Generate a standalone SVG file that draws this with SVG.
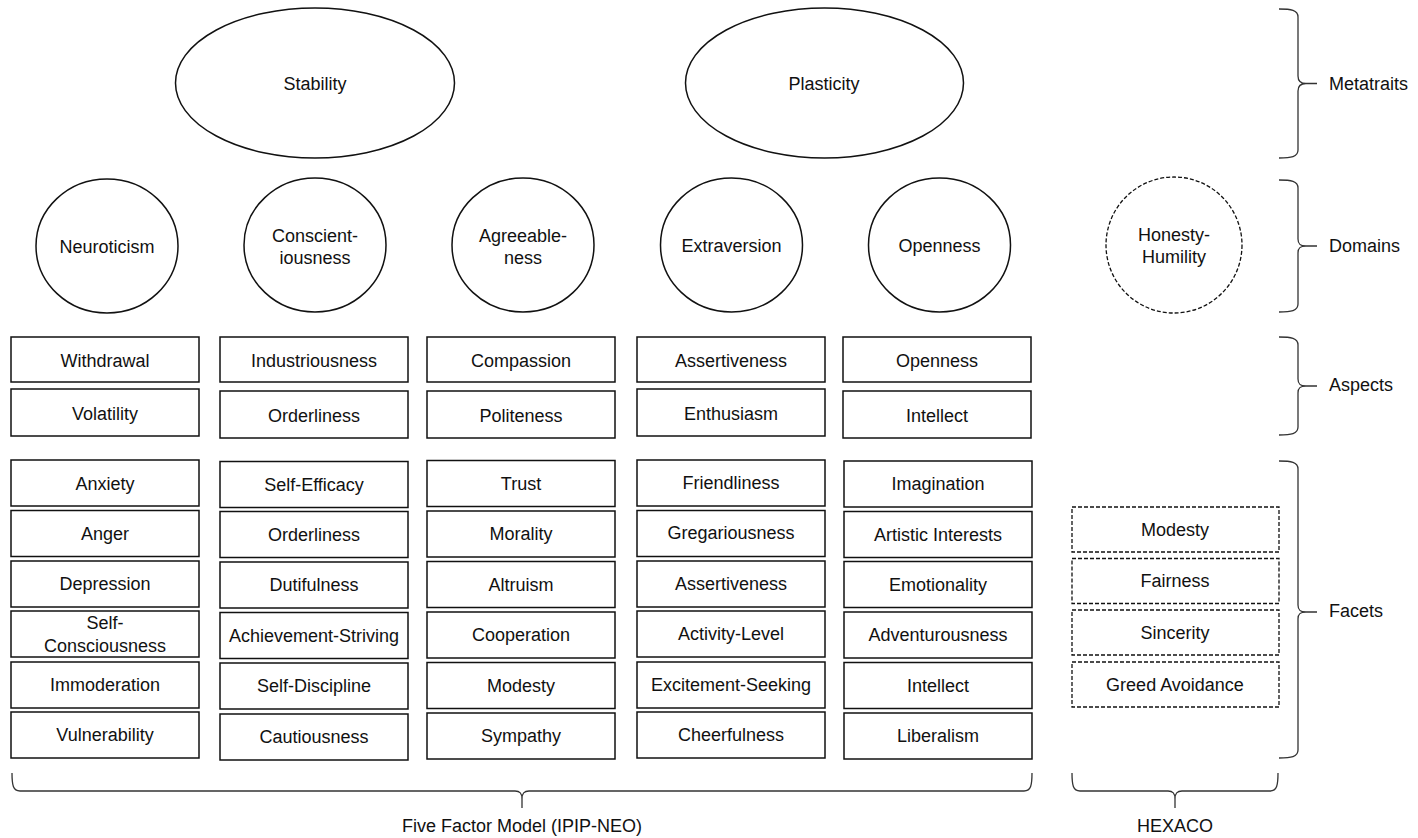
<svg xmlns="http://www.w3.org/2000/svg" width="1418" height="838" viewBox="0 0 1418 838">
<style>
.s{fill:#fff;stroke:#111;stroke-width:1.5}
.d{fill:#fff;stroke:#111;stroke-width:1.3;stroke-dasharray:4 2}
.b{fill:none;stroke:#333;stroke-width:1.3}
text{font-family:"Liberation Sans",Arial,sans-serif;font-size:18px;fill:#111;text-anchor:middle}
.l{text-anchor:start}
</style>
<rect width="1418" height="838" fill="#fff"/>
<g id="metatraits">
<g id="stability"><ellipse class="s" cx="315" cy="83" rx="139.5" ry="75"/><text x="315" y="90">Stability</text></g>
<g id="plasticity"><ellipse class="s" cx="824.5" cy="83" rx="139" ry="75"/><text x="824" y="90">Plasticity</text></g>
</g>
<g id="domains">
<g id="neuroticism"><ellipse class="s" cx="107" cy="246" rx="71" ry="67"/><text x="107" y="253">Neuroticism</text></g>
<g id="conscientiousness"><ellipse class="s" cx="315" cy="245" rx="71" ry="67"/><text x="315" y="241.5">Conscient-</text><text x="315" y="264">iousness</text></g>
<g id="agreeableness"><ellipse class="s" cx="523" cy="245" rx="71" ry="67"/><text x="523" y="241.5">Agreeable-</text><text x="523" y="264">ness</text></g>
<g id="extraversion"><ellipse class="s" cx="731.5" cy="245" rx="71" ry="67"/><text x="731.5" y="252">Extraversion</text></g>
<g id="openness"><ellipse class="s" cx="939.5" cy="245" rx="71" ry="67"/><text x="939.5" y="252">Openness</text></g>
<g id="honesty-humility"><circle class="d" cx="1174" cy="245" r="68"/><text x="1174" y="240.5">Honesty-</text><text x="1174" y="263">Humility</text></g>
</g>
<g id="aspects">
<g id="a-withdrawal"><rect class="s" x="11" y="337" width="188" height="45"/><text x="105" y="366.5">Withdrawal</text></g>
<g id="a-volatility"><rect class="s" x="11" y="389" width="188" height="47"/><text x="105" y="419.5">Volatility</text></g>
<g id="a-industriousness"><rect class="s" x="220" y="337" width="188" height="45"/><text x="314" y="366.5">Industriousness</text></g>
<g id="a-orderliness"><rect class="s" x="220" y="391" width="188" height="47"/><text x="314" y="421.5">Orderliness</text></g>
<g id="a-compassion"><rect class="s" x="427" y="337" width="188" height="45"/><text x="521" y="366.5">Compassion</text></g>
<g id="a-politeness"><rect class="s" x="427" y="391" width="188" height="47"/><text x="521" y="421.5">Politeness</text></g>
<g id="a-assertiveness"><rect class="s" x="637" y="337" width="188" height="45"/><text x="731" y="366.5">Assertiveness</text></g>
<g id="a-enthusiasm"><rect class="s" x="637" y="389" width="188" height="47"/><text x="731" y="419.5">Enthusiasm</text></g>
<g id="a-openness"><rect class="s" x="843" y="337" width="188" height="45"/><text x="937" y="366.5">Openness</text></g>
<g id="a-intellect"><rect class="s" x="843" y="391" width="188" height="47"/><text x="937" y="421.5">Intellect</text></g>
</g>
<g id="facets">
<g id="f-anxiety"><rect class="s" x="11" y="460" width="188" height="46"/><text x="105" y="490">Anxiety</text></g>
<g id="f-anger"><rect class="s" x="11" y="510.5" width="188" height="46"/><text x="105" y="540">Anger</text></g>
<g id="f-depression"><rect class="s" x="11" y="561" width="188" height="46"/><text x="105" y="590">Depression</text></g>
<g id="f-self-consciousness"><rect class="s" x="11" y="611" width="188" height="46"/><text x="105" y="629">Self-</text><text x="105" y="651.5">Consciousness</text></g>
<g id="f-immoderation"><rect class="s" x="11" y="662" width="188" height="46"/><text x="105" y="691">Immoderation</text></g>
<g id="f-vulnerability"><rect class="s" x="11" y="712" width="188" height="46"/><text x="105" y="741">Vulnerability</text></g>

<g id="f-self-efficacy"><rect class="s" x="220" y="461.5" width="188" height="46"/><text x="314" y="491">Self-Efficacy</text></g>
<g id="f-orderliness"><rect class="s" x="220" y="511.5" width="188" height="46"/><text x="314" y="541">Orderliness</text></g>
<g id="f-dutifulness"><rect class="s" x="220" y="562" width="188" height="46"/><text x="314" y="591">Dutifulness</text></g>
<g id="f-achievement-striving"><rect class="s" x="220" y="612.5" width="188" height="46"/><text x="314" y="642">Achievement-Striving</text></g>
<g id="f-self-discipline"><rect class="s" x="220" y="663" width="188" height="46"/><text x="314" y="692">Self-Discipline</text></g>
<g id="f-cautiousness"><rect class="s" x="220" y="714" width="188" height="46"/><text x="314" y="743">Cautiousness</text></g>

<g id="f-trust"><rect class="s" x="427" y="460.5" width="188" height="46"/><text x="521" y="490">Trust</text></g>
<g id="f-morality"><rect class="s" x="427" y="511" width="188" height="46"/><text x="521" y="540">Morality</text></g>
<g id="f-altruism"><rect class="s" x="427" y="561.5" width="188" height="46"/><text x="521" y="591">Altruism</text></g>
<g id="f-cooperation"><rect class="s" x="427" y="612" width="188" height="46"/><text x="521" y="641">Cooperation</text></g>
<g id="f-modesty"><rect class="s" x="427" y="662.5" width="188" height="46"/><text x="521" y="692">Modesty</text></g>
<g id="f-sympathy"><rect class="s" x="427" y="713" width="188" height="46"/><text x="521" y="742">Sympathy</text></g>

<g id="f-friendliness"><rect class="s" x="637" y="460" width="188" height="46"/><text x="731" y="489">Friendliness</text></g>
<g id="f-gregariousness"><rect class="s" x="637" y="510.5" width="188" height="46"/><text x="731" y="539">Gregariousness</text></g>
<g id="f-assertiveness"><rect class="s" x="637" y="561" width="188" height="46"/><text x="731" y="590">Assertiveness</text></g>
<g id="f-activity-level"><rect class="s" x="637" y="611" width="188" height="46"/><text x="731" y="640">Activity-Level</text></g>
<g id="f-excitement-seeking"><rect class="s" x="637" y="662" width="188" height="46"/><text x="731" y="691">Excitement-Seeking</text></g>
<g id="f-cheerfulness"><rect class="s" x="637" y="712" width="188" height="46"/><text x="731" y="741">Cheerfulness</text></g>

<g id="f-imagination"><rect class="s" x="844" y="461" width="188" height="46"/><text x="938" y="490">Imagination</text></g>
<g id="f-artistic-interests"><rect class="s" x="844" y="511.5" width="188" height="46"/><text x="938" y="541">Artistic Interests</text></g>
<g id="f-emotionality"><rect class="s" x="844" y="561.5" width="188" height="46"/><text x="938" y="591">Emotionality</text></g>
<g id="f-adventurousness"><rect class="s" x="844" y="612" width="188" height="46"/><text x="938" y="641">Adventurousness</text></g>
<g id="f-intellect"><rect class="s" x="844" y="662.5" width="188" height="46"/><text x="938" y="692">Intellect</text></g>
<g id="f-liberalism"><rect class="s" x="844" y="713" width="188" height="46"/><text x="938" y="742">Liberalism</text></g>

<g id="h-modesty"><rect class="d" x="1072" y="507" width="207" height="45"/><text x="1175" y="536">Modesty</text></g>
<g id="h-fairness"><rect class="d" x="1072" y="558.5" width="207" height="45"/><text x="1175" y="587">Fairness</text></g>
<g id="h-sincerity"><rect class="d" x="1072" y="610" width="207" height="45"/><text x="1175" y="639">Sincerity</text></g>
<g id="h-greed-avoidance"><rect class="d" x="1072" y="662" width="207" height="45"/><text x="1175" y="691">Greed Avoidance</text></g>
</g>
<g id="connectors">
<path class="b" d="M1279,9 C1291,9 1298,10 1298,17 L1298,76 C1298,81 1300,83.5 1306,83.5 C1300,83.5 1298,86 1298,91 L1298,150 C1298,157 1291,158 1279,158 M1306,83.5 L1317,83.5"/>
<path class="b" d="M1279,180 C1291,180 1298,181 1298,188 L1298,239 C1298,244 1300,246 1306,246 C1300,246 1298,248 1298,253 L1298,304 C1298,311 1291,312 1279,312 M1306,246 L1317,246"/>
<path class="b" d="M1279,337 C1291,337 1298,338 1298,345 L1298,379 C1298,384 1300,386 1306,386 C1300,386 1298,388 1298,393 L1298,427 C1298,434 1291,435 1279,435 M1306,386 L1317,386"/>
<path class="b" d="M1279,461 C1291,461 1298,462 1298,469 L1298,605 C1298,610 1300,612 1306,612 C1300,612 1298,614 1298,619 L1298,750 C1298,757 1291,758 1279,758 M1306,612 L1317,612"/>
<path class="b" d="M12,773 C12,785 13,791 20,791 L515,791 C520,791 522,793 522,799 C522,793 524,791 529,791 L1024,791 C1031,791 1032,785 1032,773 M522,799 L522,808"/>
<path class="b" d="M1072,773 C1072,785 1073,791 1080,791 L1168,791 C1173,791 1175,793 1175,799 C1175,793 1177,791 1182,791 L1270,791 C1277,791 1278,785 1278,773 M1175,799 L1175,808"/>
</g>
<g id="labels">
<text class="l" x="1329" y="90">Metatraits</text>
<text class="l" x="1329" y="252">Domains</text>
<text class="l" x="1329" y="391">Aspects</text>
<text class="l" x="1329" y="617">Facets</text>
<text x="522" y="832">Five Factor Model (IPIP-NEO)</text>
<text x="1175" y="832">HEXACO</text>
</g>
</svg>
